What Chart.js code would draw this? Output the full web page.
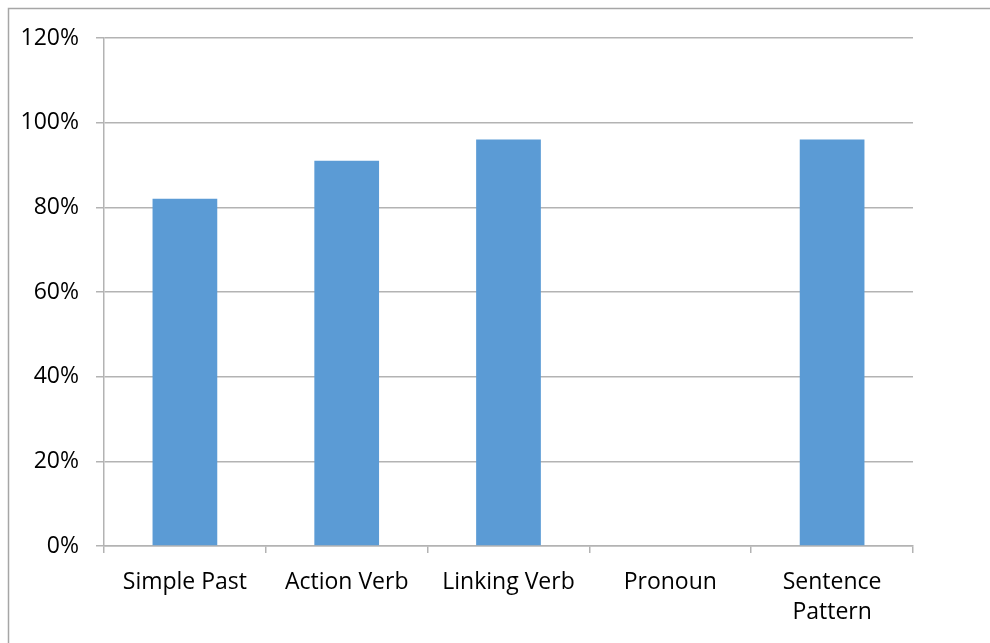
<!DOCTYPE html>
<html>
<head>
<meta charset="utf-8">
<script src="https://cdn.jsdelivr.net/npm/chart.js@4/dist/chart.umd.min.js"></script>
<style>
  html, body { margin: 0; padding: 0; background: #ffffff; }
  #wrap { width: 990px; height: 643px; position: relative; }
</style>
</head>
<body>
<div id="wrap"><canvas id="chart" width="990" height="643"></canvas></div>
<script>
// Categories and percentage scores
const categories = ["Simple Past", "Action Verb", "Linking Verb", "Pronoun", ["Sentence", "Pattern"]];
const scores = [82, 91, 96, 0, 96];
const yTicks = [0, 20, 40, 60, 80, 100, 120];

const gridColor = "#b3b3b3";
const fontFamily = "'Open Sans', 'Noto Sans', 'Liberation Sans', sans-serif";

// Outer chart frame (runs off the right and bottom edges)
const framePlugin = {
  id: "frame",
  beforeDraw(chart) {
    const ctx = chart.ctx;
    ctx.save();
    ctx.fillStyle = "#ffffff";
    ctx.fillRect(0, 0, chart.width, chart.height);
    ctx.strokeStyle = "#a6a6a6";
    ctx.lineWidth = 1.5;
    ctx.beginPath();
    ctx.moveTo(8.5, chart.height + 5);
    ctx.lineTo(8.5, 8.5);
    ctx.lineTo(chart.width + 5, 8.5);
    ctx.stroke();
    ctx.restore();
  }
};

new Chart(document.getElementById("chart"), {
  type: "bar",
  data: {
    labels: categories,
    datasets: [{
      data: scores,
      backgroundColor: "#5b9bd5",
      borderWidth: 0,
      categoryPercentage: 1.0,
      barPercentage: 0.4
    }]
  },
  options: {
    responsive: false,
    animation: false,
    devicePixelRatio: 1,
    layout: { padding: { left: 0, top: 38, right: 77, bottom: 0 } },
    plugins: {
      legend: { display: false },
      tooltip: { enabled: false },
      title: { display: false }
    },
    scales: {
      x: {
        offset: true,
        grid: {
          display: true,
          offset: true,
          drawOnChartArea: false,
          drawTicks: true,
          tickLength: 7,
          color: gridColor,
          lineWidth: 1.5
        },
        border: { display: true, color: gridColor, width: 1.5 },
        ticks: {
          color: "#000000",
          padding: 14,
          maxRotation: 0,
          autoSkip: false,
          font: { family: fontFamily, size: 23, lineHeight: 1.32 }
        },
        afterFit(scale) { scale.height = 97; }
      },
      y: {
        min: 0,
        max: 120,
        afterBuildTicks(scale) { scale.ticks = yTicks.map(v => ({ value: v })); },
        grid: {
          color: gridColor,
          lineWidth: 1.5,
          drawTicks: true,
          tickLength: 8
        },
        border: { display: true, color: gridColor, width: 1.5 },
        ticks: {
          color: "#000000",
          padding: 17,
          font: { family: fontFamily, size: 23 },
          callback: v => v + "%"
        },
        afterFit(scale) { scale.width = 104; }
      }
    }
  },
  plugins: [framePlugin]
});
</script>
</body>
</html>
